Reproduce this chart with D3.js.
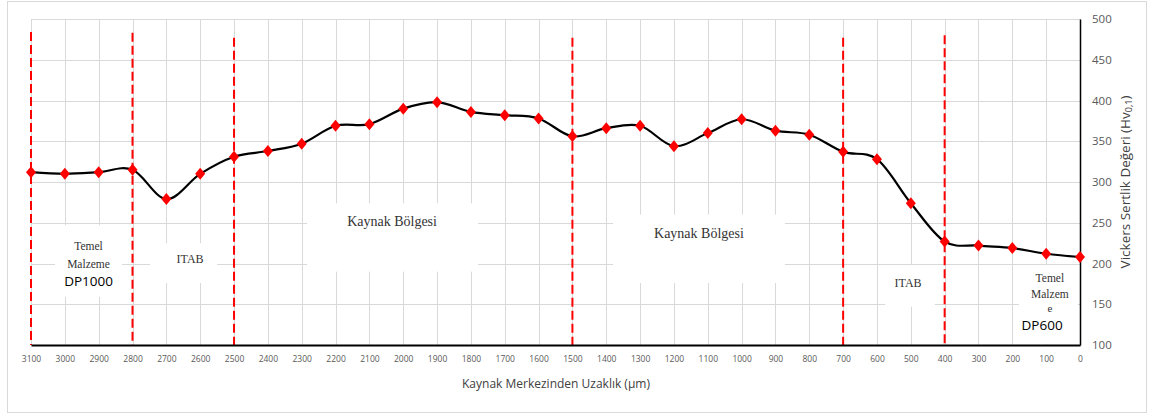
<!DOCTYPE html>
<html>
<head>
<meta charset="utf-8">
<script src="https://cdn.jsdelivr.net/npm/d3@7"></script>
<style>
  html, body { margin: 0; padding: 0; background: #fff; }
  svg { display: block; }
</style>
</head>
<body>
<svg id="chart" width="1158" height="414"></svg>
<script>
// Distance from weld centre (µm) and Vickers hardness (HV0,1)
const distances = [3100, 3000, 2900, 2800, 2700, 2600, 2500, 2400, 2300, 2200, 2100,
                   2000, 1900, 1800, 1700, 1600, 1500, 1400, 1300, 1200, 1100, 1000,
                   900, 800, 700, 600, 500, 400, 300, 200, 100, 0];
const hardness = [312, 310, 312, 315, 279, 310, 331, 338, 347, 369, 371,
                  390, 398, 386, 382, 378, 356, 366, 369, 344, 360, 377,
                  363, 358, 337, 328, 274, 227, 222, 219, 212, 208];

// Zone boundaries (dashed red lines) and the hardness level each line reaches
const boundaries = [3100, 2800, 2500, 1500, 700, 400];
const boundaryTops = [484, 483, 477, 477, 477, 480];

// Axis ticks
const xTicks = d3.range(3100, -1, -100);
const yTicks = [100, 150, 200, 250, 300, 350, 400, 450, 500];

const xTitle = "Kaynak Merkezinden Uzaklık (µm)";
const yTitle = "Vickers Sertlik Değeri (Hv";
const yTitleSub = "0,1";

// Zone annotation boxes (white text boxes laid over the grid)
const zoneBoxes = [
  { x0: 3029, x1: 2831, y0: 247, y1: 159 },
  { x0: 2748, x1: 2550, y0: 225, y1: 176 },
  { x0: 2284, x1: 1779, y0: 274, y1: 190 },
  { x0: 1380, x1: 872,  y0: 260, y1: 176 },
  { x0: 576,  x1: 429,  y0: 198, y1: 147 },
  { x0: 180,  x1: 6,    y0: 198, y1: 101 }
];
const zoneTexts = [
  { text: "Temel",          x: 2930, y: 221, font: "serif", size: 11.5 },
  { text: "Malzeme",        x: 2930, y: 200, font: "serif", size: 11.5 },
  { text: "DP1000",         x: 2930, y: 178, font: "sans",  size: 13.5 },
  { text: "ITAB",           x: 2630, y: 205, font: "serif", size: 12 },
  { text: "Kaynak Bölgesi", x: 2033, y: 251, font: "serif", size: 14 },
  { text: "Kaynak Bölgesi", x: 1126, y: 237, font: "serif", size: 14 },
  { text: "ITAB",           x: 508,  y: 176, font: "serif", size: 12 },
  { text: "Temel",          x: 89,   y: 182, font: "serif", size: 11.5 },
  { text: "Malzem",         x: 89,   y: 162, font: "serif", size: 11.5 },
  { text: "e",              x: 89,   y: 145, font: "serif", size: 11 },
  { text: "DP600",          x: 112,  y: 125, font: "sans",  size: 13.5 }
];

const svg = d3.select("#chart");

// Chart frame
svg.append("rect")
  .attr("x", 7.5).attr("y", 1.5).attr("width", 1139).attr("height", 411)
  .attr("fill", "#fff").attr("stroke", "#d9d9d9").attr("stroke-width", 1);

const plot = { left: 31, right: 1080, top: 19, bottom: 345 };

const x = d3.scaleLinear().domain([3100, 0]).range([plot.left, plot.right]);
const y = d3.scaleLinear().domain([100, 500]).range([plot.bottom, plot.top]);

// Grid
const grid = svg.append("g");
grid.selectAll("line.v")
  .data(xTicks)
  .join("line")
  .attr("x1", d => Math.round(x(d)) + 0.5).attr("x2", d => Math.round(x(d)) + 0.5)
  .attr("y1", plot.top).attr("y2", plot.bottom)
  .attr("stroke", "#d9d9d9").attr("stroke-width", 1);
grid.selectAll("line.h")
  .data(yTicks.filter(d => d > 100))
  .join("line")
  .attr("x1", plot.left).attr("x2", plot.right)
  .attr("y1", d => Math.round(y(d)) + 0.5).attr("y2", d => Math.round(y(d)) + 0.5)
  .attr("stroke", "#d9d9d9").attr("stroke-width", 1);

// White annotation boxes hide the grid beneath the zone labels
svg.append("g").selectAll("rect")
  .data(zoneBoxes)
  .join("rect")
  .attr("x", d => x(d.x0)).attr("width", d => x(d.x1) - x(d.x0))
  .attr("y", d => y(d.y0)).attr("height", d => y(d.y1) - y(d.y0))
  .attr("fill", "#fff");

// Zone boundary lines
svg.append("g").selectAll("line")
  .data(boundaries.map((b, i) => ({ b, top: boundaryTops[i] })))
  .join("line")
  .attr("x1", d => x(d.b)).attr("x2", d => x(d.b))
  .attr("y1", d => y(d.top)).attr("y2", plot.bottom)
  .attr("stroke", "#ff0000").attr("stroke-width", 2)
  .attr("stroke-dasharray", "9,4");

// Zone labels
svg.append("g").selectAll("text")
  .data(zoneTexts)
  .join("text")
  .attr("x", d => x(d.x)).attr("y", d => y(d.y))
  .attr("text-anchor", "middle").attr("dominant-baseline", "central")
  .attr("font-family", d => d.font === "serif" ? "'Liberation Serif', 'Times New Roman', serif" : "'Open Sans', sans-serif")
  .attr("font-size", d => d.size)
  .attr("fill", d => d.font === "serif" ? "#333" : "#000")
  .text(d => d.text);

// Axes
const xAxis = svg.append("g").attr("transform", `translate(0,${plot.bottom})`)
  .call(d3.axisBottom(x).tickValues(xTicks).tickSize(0).tickPadding(11).tickFormat(d3.format("d")));
xAxis.select(".domain").attr("stroke", "#000").attr("stroke-width", 2);
xAxis.selectAll("text").attr("font-family", "'Open Sans', sans-serif").attr("font-size", 8.5).attr("fill", "#595959");

const yAxis = svg.append("g").attr("transform", `translate(${plot.right},0)`)
  .call(d3.axisRight(y).tickValues(yTicks).tickSize(0).tickPadding(12));
yAxis.select(".domain").attr("stroke", "#000").attr("stroke-width", 1.5);
yAxis.selectAll("text").attr("font-family", "'Open Sans', sans-serif").attr("font-size", 11.5).attr("fill", "#595959");

// Axis titles
svg.append("text")
  .attr("x", 556).attr("y", 383)
  .attr("text-anchor", "middle").attr("dominant-baseline", "central")
  .attr("font-family", "'Open Sans', sans-serif").attr("font-size", 12).attr("fill", "#404040")
  .text(xTitle);

const yt = svg.append("text")
  .attr("transform", `translate(1125,${(plot.top + plot.bottom) / 2}) rotate(-90)`)
  .attr("text-anchor", "middle").attr("dominant-baseline", "central")
  .attr("font-family", "'Open Sans', sans-serif").attr("font-size", 13.5).attr("fill", "#404040");
yt.append("tspan").text(yTitle);
yt.append("tspan").attr("font-size", 9).attr("dy", 3).text(yTitleSub);
yt.append("tspan").attr("dy", -3).text(")");

// Hardness profile
const pts = distances.map((d, i) => ({ d, v: hardness[i] }));
const line = d3.line()
  .x(p => x(p.d)).y(p => y(p.v))
  .curve(d3.curveCardinal.tension(0));
svg.append("path")
  .datum(pts)
  .attr("d", line)
  .attr("fill", "none").attr("stroke", "#000").attr("stroke-width", 2.2);

// Diamond markers
svg.append("g").selectAll("path")
  .data(pts)
  .join("path")
  .attr("d", p => {
    const cx = x(p.d), cy = y(p.v), w = 5, h = 6;
    return `M${cx},${cy - h}L${cx + w},${cy}L${cx},${cy + h}L${cx - w},${cy}Z`;
  })
  .attr("fill", "#ff0000");
</script>
</body>
</html>
